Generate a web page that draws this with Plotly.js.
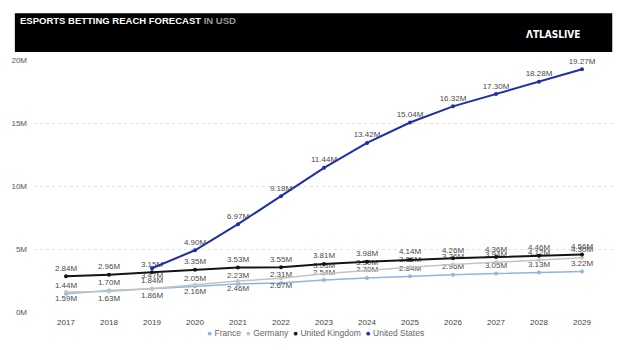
<!DOCTYPE html>
<html>
<head>
<meta charset="utf-8">
<script src="https://cdn.plot.ly/plotly-3.0.1.min.js"></script>
<style>
html,body{margin:0;padding:0;background:#fff;}
#chart{width:620px;height:350px;}
</style>
</head>
<body>
<div id="chart"></div>
<script>
const years = ['2017','2018','2019','2020','2021','2022','2023','2024','2025','2026','2027','2028','2029'];
const france = [1.44,1.70,1.84,2.05,2.23,2.31,2.54,2.70,2.84,2.96,3.05,3.13,3.22];
const germany = [1.59,1.63,1.86,2.16,2.46,2.67,3.03,3.30,3.56,3.76,3.94,4.12,4.30];
const uk = [2.84,2.96,3.15,3.35,3.53,3.55,3.81,3.98,4.14,4.26,4.36,4.46,4.56];
const us = [null,null,3.47,4.90,6.97,9.18,11.44,13.42,15.04,16.32,17.30,18.28,19.27];
const yTicks = [0,5,10,15,20];
const yTickText = ['0M','5M','10M','15M','20M'];
const seriesNames = ['France','Germany','United Kingdom','United States'];
const seriesColors = ['#8db6e4','#c4c4c4','#141414','#1f2ea8'];

const labelFont = {family:'Liberation Sans, Arial, sans-serif', size:8, color:'#4a4a4a'};

function mk(idx, y, width, pos){
  return {
    x: years, y: y, name: seriesNames[idx], type:'scatter', mode:'lines+markers+text',
    line:{color:seriesColors[idx], width:width},
    marker:{color:seriesColors[idx], size:4},
    texttemplate: y.map(v => v==null ? '' : '%{y:.2f}M'),
    textposition: pos,
    textfont: labelFont,
    connectgaps:false,
    cliponaxis:false,
    showlegend:false,
    hoverinfo:'skip'
  };
}

const gerPos = years.map((_,i) => i < 6 ? 'bottom center' : 'top center');
const usPos = years.map((_,i) => i === 2 ? 'bottom center' : 'top center');

const data = [
  mk(0, france, 1.5, 'top center'),
  mk(1, germany, 1.5, gerPos),
  mk(2, uk, 2, 'top center'),
  mk(3, us, 2, usPos)
];

const legendText = seriesNames.map((n,i) =>
  '<span style="color:' + seriesColors[i] + '">●</span> ' + n).join('  ');

const layout = {
  width:620, height:350,
  margin:{l:34, r:6, t:60, b:38, autoexpand:false},
  paper_bgcolor:'#fff', plot_bgcolor:'#fff',
  font:{family:'Liberation Sans, Arial, sans-serif', size:8, color:'#555'},
  showlegend:false,
  xaxis:{type:'category', showgrid:false, zeroline:false, showline:false, ticks:'',
         tickfont:{size:8, color:'#444'}, ticklabelstandoff:4},
  yaxis:{range:[0,20], tickvals:yTicks, ticktext:yTickText, showgrid:true,
         gridcolor:'#e2e2e2', griddash:'dot', gridwidth:1, zeroline:false, showline:false,
         tickfont:{size:8, color:'#555'}, ticks:'', ticklabelstandoff:6},
  shapes:[{type:'rect', xref:'paper', yref:'paper', x0:-0.033, x1:0.997, y0:1.032, y1:1.186,
           fillcolor:'#000', line:{width:0}, layer:'above'}],
  annotations:[
    {xref:'paper', yref:'paper', x:-0.027, y:1.155, xanchor:'left', yanchor:'middle', showarrow:false,
     text:'<b>ESPORTS BETTING REACH FORECAST</b><span style="color:#9a9a9a"><b> IN USD</b></span>',
     font:{family:'Liberation Sans, Arial, sans-serif', size:9.5, color:'#fff'}},
    {xref:'paper', yref:'paper', x:0.945, y:1.1, xanchor:'right', yanchor:'middle', showarrow:false,
     text:'<b>ΛTLASLIVE</b>',
     font:{family:'DejaVu Sans Condensed, Liberation Sans Narrow, sans-serif', size:10, color:'#fff'}},
    {xref:'paper', yref:'paper', x:0.485, y:-0.083, xanchor:'center', yanchor:'middle', showarrow:false,
     text:legendText, font:{family:'Liberation Sans, Arial, sans-serif', size:8.5, color:'#666'}}
  ]
};

Plotly.newPlot('chart', data, layout, {displayModeBar:false, staticPlot:true});
</script>
</body>
</html>
